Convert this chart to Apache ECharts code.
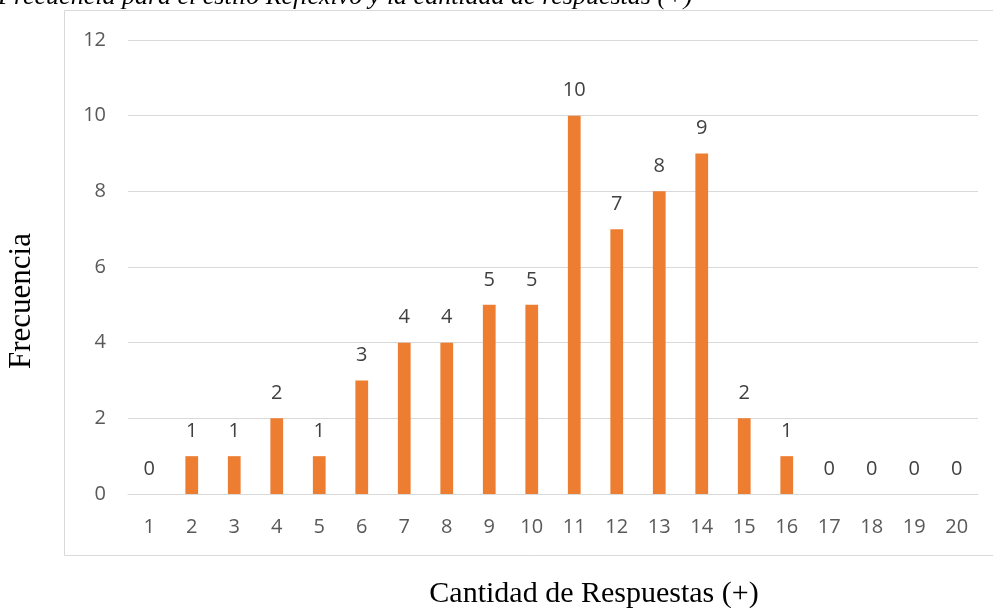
<!DOCTYPE html>
<html>
<head>
<meta charset="utf-8">
<script src="https://cdn.jsdelivr.net/npm/echarts@6/dist/echarts.min.js"></script>
<style>
  html, body { margin: 0; padding: 0; background: #fff; }
  #chart { width: 993px; height: 608px; }
</style>
</head>
<body>
<div id="chart"></div>
<script>
// respuestas (+) por categoría y su frecuencia
const categories = ['1','2','3','4','5','6','7','8','9','10','11','12','13','14','15','16','17','18','19','20'];
const frecuencia = [0, 1, 1, 2, 1, 3, 4, 4, 5, 5, 10, 7, 8, 9, 2, 1, 0, 0, 0, 0];
const yTicks = [0, 2, 4, 6, 8, 10, 12];

const chart = echarts.init(document.getElementById('chart'));

const labelFont = '"Open Sans", "Liberation Sans", sans-serif';
const serif = '"Liberation Serif", "DejaVu Serif", serif';

chart.setOption({
  animation: false,
  graphic: [
    {
      type: 'rect',
      shape: { x: 64.5, y: 10.5, width: 940, height: 545 },
      style: { fill: 'none', stroke: '#d9d9d9', lineWidth: 1 },
      silent: true,
    },
    {
      type: 'text',
      x: -2,
      y: 10,
      style: {
        text: 'Frecuencia para el estilo Reflexivo y la cantidad de respuestas (+)',
        font: 'italic 26px ' + serif,
        fill: '#000',
        verticalAlign: 'bottom',
      },
    },
    {
      // título del eje Y
      type: 'text',
      x: 22,
      y: 301,
      rotation: Math.PI / 2,
      style: {
        text: 'Frecuencia',
        font: '31px ' + serif,
        fill: '#000',
        align: 'center',
        verticalAlign: 'middle',
      },
    },
    {
      // título del eje X
      type: 'text',
      x: 594,
      y: 594,
      style: {
        text: 'Cantidad de Respuestas (+)',
        font: '30px ' + serif,
        fill: '#000',
        align: 'center',
        verticalAlign: 'middle',
      },
    },
  ],
  grid: { left: 128, right: 15, top: 40, bottom: 114, outerBoundsMode: 'none' },
  xAxis: {
    type: 'category',
    data: categories,
    axisLine: { lineStyle: { color: '#d9d9d9', width: 1 } },
    axisTick: { show: false },
    axisLabel: { color: '#595959', fontFamily: labelFont, fontSize: 20, margin: 23 },
  },
  yAxis: {
    type: 'value',
    min: 0,
    max: 12,
    interval: 2,
    axisLine: { show: false },
    axisTick: { show: false },
    axisLabel: {
      color: '#595959',
      fontFamily: labelFont,
      fontSize: 20,
      margin: 22,
      formatter: (v) => (yTicks.includes(v) ? String(v) : ''),
    },
    splitLine: { lineStyle: { color: '#d9d9d9', width: 1 } },
  },
  series: [
    {
      type: 'bar',
      data: frecuencia,
      barWidth: '30%',
      itemStyle: { color: '#ED7D31' },
      label: {
        show: true,
        position: 'top',
        distance: 15,
        color: '#404040',
        fontFamily: labelFont,
        fontSize: 20,
      },
    },
  ],
});
</script>
</body>
</html>
